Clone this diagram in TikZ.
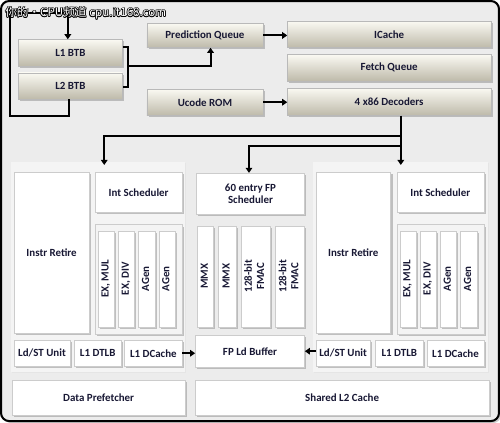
\documentclass[tikz,border=0pt]{standalone}
\usepackage{fontspec}
\setmainfont{Carlito}
\newfontfamily\cjkfont{Noto Sans CJK SC}
\usetikzlibrary{arrows.meta,shadows}
\definecolor{ink}{RGB}{24,24,52}
\definecolor{framebg}{RGB}{236,236,236}
\definecolor{panelbg}{RGB}{244,244,244}
\definecolor{bartop}{RGB}{250,249,242}
\definecolor{barbot}{RGB}{190,186,170}
\newcommand{\sidelabel}[1]{\rotatebox{90}{\begin{tabular}{@{}c@{}}#1\end{tabular}}}

\begin{document}
\begin{tikzpicture}[x=1pt,y=-1pt]
  \tikzstyle{every node}=[font=\bfseries\fontsize{10.8}{12}\selectfont,text=ink,inner sep=0pt,align=center]
  \tikzstyle{frame}=[rectangle,rounded corners=8pt,draw=black,line width=2pt,fill=framebg,
                     drop shadow={shadow xshift=2pt,shadow yshift=-2pt,fill=black!40}]
  \tikzstyle{panel}=[rectangle,fill=panelbg,
                     drop shadow={shadow xshift=1pt,shadow yshift=-1pt,fill=black!12}]
  \tikzstyle{unit}=[rectangle,draw=gray!40,line width=0.4pt,fill=white,
                    drop shadow={shadow xshift=1.8pt,shadow yshift=-1.8pt,fill=black!45}]
  \tikzstyle{fetch}=[unit,draw=gray!55,top color=bartop,bottom color=barbot]
  \tikzstyle{exe}=[unit,minimum width=16pt,minimum height=95pt]
  \tikzstyle{fpexe}=[unit,minimum height=100pt]
  \tikzstyle{arr}=[line width=2pt,-{Triangle[length=5pt,width=6.5pt]}]
  \tikzstyle{link}=[line width=2pt]
  \tikzstyle{wmark}=[anchor=west,font=\cjkfont\fontsize{11.5}{12}\selectfont]

  % chip outline and the two integer cores
  \node[frame,minimum width=492pt,minimum height=415pt] (chip) at (249,210.5) {};
  \node[panel,minimum width=172pt,minimum height=208pt] (lcore) at (99,266) {};
  \node[panel,minimum width=173pt,minimum height=208pt] (rcore) at (397.5,266) {};

  % front end
  \node[fetch,minimum width=103pt,minimum height=26pt] (l1btb) at (71.5,54) {L1 BTB};
  \node[fetch,minimum width=103pt,minimum height=26pt] (l2btb) at (71.5,87) {L2 BTB};
  \node[fetch,minimum width=115pt,minimum height=24pt] (predq) at (204.5,37) {Prediction Queue};
  \node[fetch,minimum width=115pt,minimum height=26pt] (ucode) at (204.5,103) {Ucode ROM};
  \node[fetch,minimum width=201pt,minimum height=26pt] (icache) at (386.5,36) {ICache};
  \node[fetch,minimum width=201pt,minimum height=26pt] (fetchq) at (386.5,69) {Fetch Queue};
  \node[fetch,minimum width=201pt,minimum height=27pt] (decode) at (386.5,102.5) {4 x86 Decoders};

  % left integer core
  \node[unit,minimum width=74pt,minimum height=159pt] (lretire) at (53,251.5) {Instr Retire};
  \node[unit,minimum width=86pt,minimum height=40pt] (lsched) at (139,192) {Int Scheduler};
  \node[unit,fill=panelbg,minimum width=86pt,minimum height=108pt] (lexec) at (139,278) {};
  \node[exe] (lmul) at (107,277.5) {\sidelabel{EX, MUL}};
  \node[exe] (ldiv) at (127,277.5) {\sidelabel{EX, DIV}};
  \node[exe] (lagen1) at (147,277.5) {\sidelabel{AGen}};
  \node[exe] (lagen2) at (167,277.5) {\sidelabel{AGen}};
  \node[unit,minimum width=55pt,minimum height=26pt] (lldst) at (43.5,351) {Ld/ST Unit};
  \node[unit,minimum width=47pt,minimum height=26pt] (ldtlb) at (98.5,351) {L1 DTLB};
  \node[unit,minimum width=57pt,minimum height=26pt] (ldcache) at (153.5,351) {L1 DCache};

  % shared floating point unit
  \node[unit,minimum width=107pt,minimum height=41pt] (fpsched) at (249.5,193.5) {60 entry FP\\Scheduler};
  \node[fpexe,minimum width=16pt] (mmx1) at (205,275) {\sidelabel{MMX}};
  \node[fpexe,minimum width=17pt] (mmx2) at (226.5,275) {\sidelabel{MMX}};
  \node[fpexe,minimum width=29pt] (fmac1) at (254.5,275) {\sidelabel{128-bit\\FMAC}};
  \node[fpexe,minimum width=29pt] (fmac2) at (288.5,275) {\sidelabel{128-bit\\FMAC}};
  \node[unit,minimum width=108pt,minimum height=32pt] (fpld) at (249,349) {FP Ld Buffer};

  % right integer core
  \node[unit,minimum width=74pt,minimum height=159pt] (rretire) at (351,251.5) {Instr Retire};
  \node[unit,minimum width=86pt,minimum height=40pt] (rsched) at (437,192) {Int Scheduler};
  \node[unit,fill=panelbg,minimum width=86pt,minimum height=108pt] (rexec) at (437,278) {};
  \node[exe] (rmul) at (405,277.5) {\sidelabel{EX, MUL}};
  \node[exe] (rdiv) at (425,277.5) {\sidelabel{EX, DIV}};
  \node[exe] (ragen1) at (445,277.5) {\sidelabel{AGen}};
  \node[exe] (ragen2) at (465,277.5) {\sidelabel{AGen}};
  \node[unit,minimum width=54pt,minimum height=26pt] (rldst) at (341,351) {Ld/ST Unit};
  \node[unit,minimum width=47pt,minimum height=26pt] (rdtlb) at (396.5,351) {L1 DTLB};
  \node[unit,minimum width=56pt,minimum height=26pt] (rdcache) at (452,351) {L1 DCache};

  % bottom row
  \node[unit,minimum width=171pt,minimum height=34pt] (prefetch) at (99.5,395) {Data Prefetcher};
  \node[unit,minimum width=290pt,minimum height=34pt] (l2cache) at (340,395) {Shared L2 Cache};

  % branch prediction loop
  \coordinate (btbjoin) at (128,67);
  \coordinate (loopbot) at (12,117);
  \coordinate (looptop) at (12,15);
  \draw[link] ([yshift=6pt]l1btb.east) -| (btbjoin) |- ([yshift=-1pt]l2btb.east);
  \draw[arr] (btbjoin) -| ([xshift=5.5pt]predq.south);
  \draw[arr] ([xshift=-1.5pt]l2btb.south) |- (loopbot) -- (looptop) -| ([xshift=-2.5pt]l1btb.north);
  \draw[arr] (predq.east) -- (predq.east -| icache.west);
  \draw[arr] (ucode.east) -- (ucode.east -| decode.west);

  % dispatch
  \coordinate (rdisp) at (398,165);
  \coordinate (ldisp) at (105,165);
  \draw[arr] ([xshift=11.5pt]decode.south) -- (rdisp);
  \draw[arr] (rdisp |- 0,136) -| (ldisp);
  \draw[arr] (rdisp |- 0,146) -| ([xshift=-1.5pt]fpsched.north);

  % loads into the FP unit
  \draw[arr] (ldcache.east) -- (ldcache.east -| fpld.west);
  \draw[arr] ([yshift=2pt]rldst.west) -- ([yshift=2pt]rldst.west -| fpld.east);

  % watermark
  \foreach \dx/\dy in {-.7/0,.7/0,0/-.7,0/.7,-.5/-.5,.5/.5,-.5/.5,.5/-.5}
    \node[wmark,text=black] (wmshade) at (7+\dx,15+\dy) {你的•CPU频道 cpu.it168.com};
  \node[wmark,text=white] (wm) at (7,15) {你的•CPU频道 cpu.it168.com};
\end{tikzpicture}
\end{document}
